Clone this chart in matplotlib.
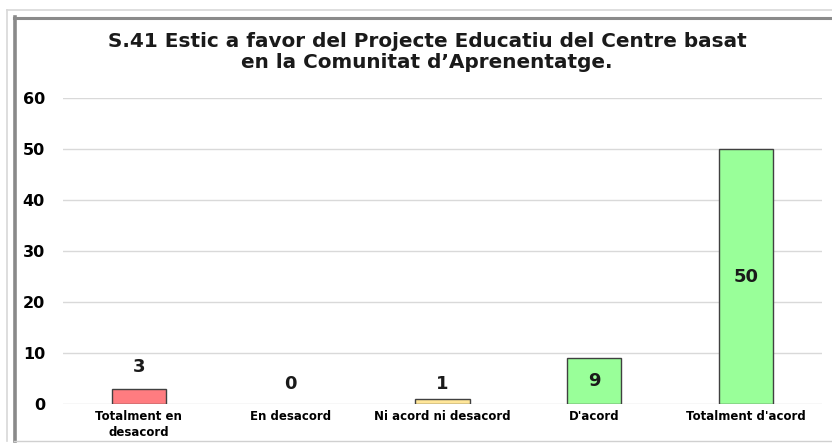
import matplotlib
matplotlib.use("Agg")
import matplotlib.pyplot as plt
from matplotlib.lines import Line2D

title = "S.41 Estic a favor del Projecte Educatiu del Centre basat\nen la Comunitat d\u2019Aprenentatge."
categories = ["Totalment en\ndesacord", "En desacord", "Ni acord ni desacord", "D'acord", "Totalment d'acord"]
values = [3, 0, 1, 9, 50]
colors = ["#FF7C80", "#FFFFFF", "#FFE699", "#99FF99", "#99FF99"]
yticks = [0, 10, 20, 30, 40, 50, 60]

plt.rcParams["font.family"] = ["DejaVu Sans"]

W, H = 832, 447
fig = plt.figure(figsize=(W / 100, H / 100), dpi=100)
fig.patch.set_facecolor("white")

# chart frame: light outer edge and darker inner edge
def fline(x0, y0, x1, y1, color, lw):
    fig.add_artist(Line2D([x0 / W, x1 / W], [1 - y0 / H, 1 - y1 / H],
                          transform=fig.transFigure, color=color, lw=lw))

fline(7, 10, 832, 10, "#d8d8d8", 1.2)
fline(7, 10, 7, 441, "#d8d8d8", 1.2)
fline(14, 17.5, 832, 17.5, "#8a8a8a", 2.2)
fline(14.5, 17, 14.5, 441, "#8a8a8a", 2.6)
fline(14, 441, 832, 441, "#d0d0d0", 1.0)

ax = fig.add_axes([63 / W, 1 - 404 / H, (822 - 63) / W, (404 - 98) / H])
ax.set_xlim(-0.5, 4.5)
ax.set_ylim(0, 60)
for s in ax.spines.values():
    s.set_visible(False)

for t in yticks:
    ax.axhline(t, color="#d9d9d9", lw=1.0, zorder=0)

x = list(range(len(categories)))
edges = ["#404040" if v > 0 else "none" for v in values]
ax.bar(x, values, width=0.356, color=colors, edgecolor=edges, linewidth=1.0, zorder=2)

# small bars get their label above the bar, tall bars inside at mid-height
label_gap_pt = [9.0, 8.0, 4.3, 0, 0]
for xi, v, gap in zip(x, values, label_gap_pt):
    if v >= 9:
        ax.text(xi, v / 2, str(v), ha="center", va="center", fontsize=13,
                fontweight="bold", color="#1a1a1a", zorder=3)
    else:
        ax.annotate(str(v), (xi, v), xytext=(0, gap), textcoords="offset points",
                    ha="center", va="bottom", fontsize=13, fontweight="bold",
                    color="#1a1a1a", zorder=3)

ax.set_yticks(yticks)
ax.set_yticklabels([str(t) for t in yticks], fontsize=11.5, fontweight="bold")
ax.tick_params(axis="y", length=0, pad=13)
ax.set_xticks(x)
ax.set_xticklabels(categories, fontsize=8.5, fontweight="bold", linespacing=1.25)
ax.tick_params(axis="x", length=0, pad=4.5)

fig.text(427 / W, 1 - 52 / H, title, ha="center", va="center", fontsize=14.4,
         fontweight="bold", linespacing=1.08, color="#1a1a1a")

fig.savefig("out.png", dpi=100)
